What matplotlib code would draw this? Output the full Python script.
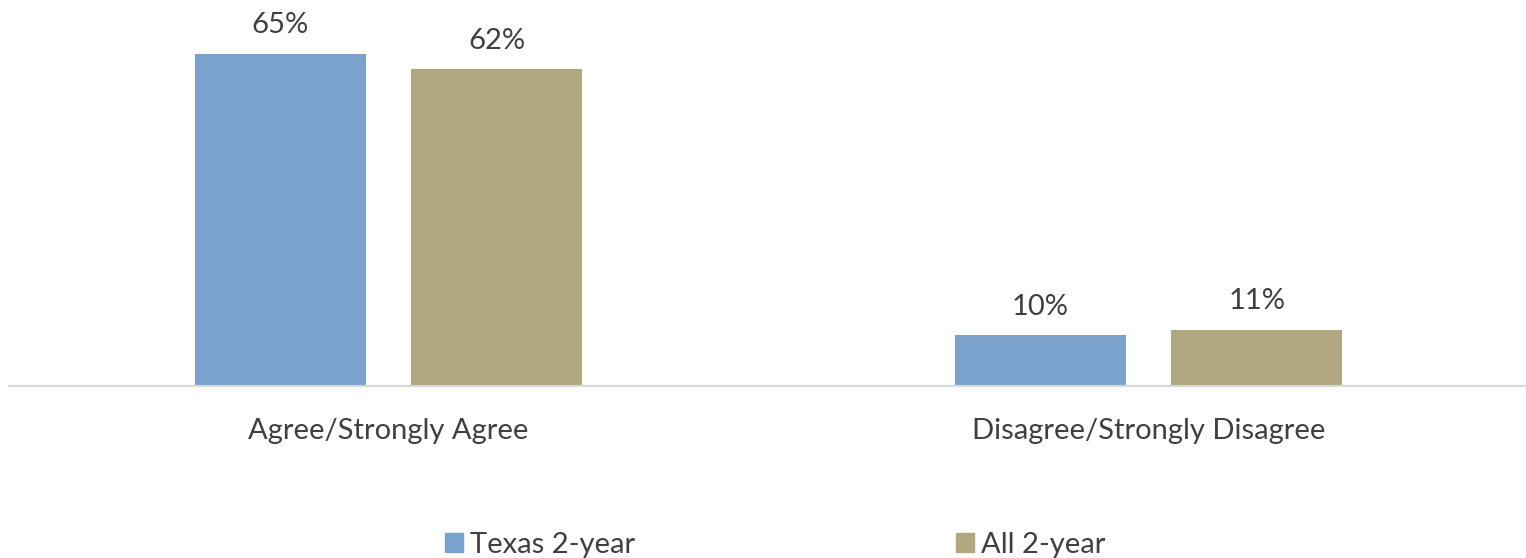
import numpy as np
import matplotlib
matplotlib.use("Agg")
from matplotlib import pyplot as plt
from matplotlib.patches import Patch

plt.rcParams['font.family'] = ['Lato', 'DejaVu Sans']

categories = ['Agree/Strongly Agree', 'Disagree/Strongly Disagree']
series_names = ['Texas 2-year', 'All 2-year']
texas = [65, 10]
all_2yr = [62, 11]

colors = ['#7BA2CD', '#AFA77F']
text_color = '#404040'

fig = plt.figure(figsize=(15.26, 5.58), dpi=100)
ax = fig.add_axes([8.5 / 1526, (558 - 386) / 558, 1520 / 1526, 358 / 558])

x = np.arange(len(categories))
width = 0.225
offset = 0.1424

for vals, off, c in zip([texas, all_2yr], [-offset, offset], colors):
    bars = ax.bar(x + off, vals, width, color=c)
    for b, v in zip(bars, vals):
        ax.text(b.get_x() + b.get_width() / 2, v + 3.0, f'{v}%',
                ha='center', va='bottom', fontsize=21, color=text_color)

ax.set_xlim(-0.5, 1.5)
ax.set_ylim(0, 70)
ax.set_yticks([])
ax.set_xticks(x)
ax.set_xticklabels(categories, fontsize=21, color=text_color)
ax.tick_params(axis='x', length=0, pad=23)
for side in ['top', 'right', 'left']:
    ax.spines[side].set_visible(False)
ax.spines['bottom'].set_color('#D9D9D9')
ax.spines['bottom'].set_linewidth(1.5)

handles = [Patch(color=c) for c in colors]
fig.legend(handles, series_names, loc='center', bbox_to_anchor=(775 / 1526, 1 - 545 / 558),
           ncol=2, frameon=False, fontsize=21, labelcolor=text_color,
           handlelength=0.62, handleheight=0.62, handletextpad=0.24,
           columnspacing=11.0, borderpad=0, borderaxespad=0)

fig.savefig('out.png', dpi=100)
